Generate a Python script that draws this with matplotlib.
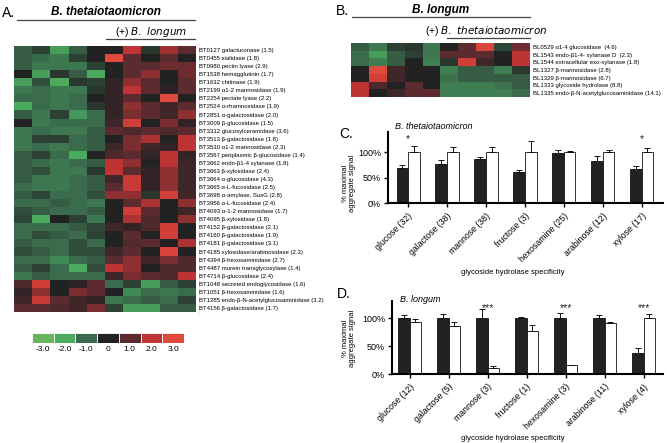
import numpy as np
import matplotlib
matplotlib.use("Agg")
import matplotlib.pyplot as plt
from matplotlib.colors import LinearSegmentedColormap, Normalize
from matplotlib.lines import Line2D

plt.rcParams['font.family'] = ['Liberation Sans', 'DejaVu Sans']

# ---- data: panel A heatmap (B. theta alone | + B. longum), 5 + 5 arrays
bt_genes = ["BT0127 galacturonase (1.5)", "BT0455 sialidase (1.8)", "BT0980 pectin lyase (2.9)",
            "BT1538 hemagglutinin (1.7)", "BT1632 chitinase (1.9)", "BT2199 α1-2 mannosidase (1.9)",
            "BT2254 pectate lyase (2.2)", "BT2524 α-rhamnosidase (1.9)", "BT2851 α-galactosidase (2.0)",
            "BT3009 β-glucosidase (1.5)", "BT3312 glucosylceramidase (3.6)", "BT3513 β-galactosidase (1.8)",
            "BT3530 α1-2 mannosidase (2.3)", "BT3567 periplasmic β-glucosidase (1.4)",
            "BT3662 endo-β1-4 xylanase (1.8)", "BT3663 β-xylosidase (2.4)", "BT3664 α-glucosidase (4.3)",
            "BT3665 α-L-fucosidase (2.5)", "BT3698 α-amylase, SusG (2.8)", "BT3956 α-L-fucosidase (2.4)",
            "BT4093 α-1-2 mannosidase (1.7)", "BT4095 β-xylosidase (1.8)", "BT4152 β-galactosidase (2.1)",
            "BT4160 β-galactosidase (1.9)", "BT4181 β-galactosidase (3.1)",
            "BT4185 xylosidase/arabinosidase (2.3)", "BT4394 β-hexosaminidase (2.7)",
            "BT4487 murein transglycosylase (1.4)", "BT4714 β-glucosidase (2.4)",
            "BT1048 secreted endoglycosidase (1.6)", "BT1051 β-hexosaminidase (1.6)",
            "BT1285 endo-β-N-acetylglucosaminidase (3.2)", "BT4156 β-galactosidase (1.7)"]
bt_alone = [[-0.8, -0.4, -1.8, -0.8, 0], [-0.8, -1.0, -1.2, -0.4, 0], [-0.8, -1.2, -1.2, -1.2, -0.4],
            [0, -1.8, -0.3, -0.8, -2.0], [-1.8, -0.6, -2.2, -0.3, -0.4], [-1.2, -1.0, -1.2, -1.2, -0.3],
            [-1.0, -1.0, -1.2, -1.0, 0], [-2.0, -1.0, -1.2, -1.0, -0.3], [-0.8, -1.2, -0.4, -1.7, -1.0],
            [0, -1.2, -1.0, -1.0, -1.0], [-1.2, -1.0, -1.2, -1.2, -0.8], [-1.2, -0.4, -0.4, -1.0, -0.8],
            [-1.2, -1.0, -1.2, -1.0, -0.8], [-0.8, -0.4, -1.0, -2.0, 0], [-0.8, -1.0, -1.2, -1.0, -0.8],
            [-0.8, -0.6, -1.2, -1.2, -0.3], [-0.8, -1.2, -1.2, -1.0, -0.8], [-1.0, -1.2, -1.2, -1.0, -0.8],
            [-0.8, -0.5, -1.0, -1.0, -0.6], [-1.0, -1.0, -0.8, -1.0, -1.2], [-0.6, -0.8, -1.0, -1.0, -0.8],
            [-0.5, -2.0, 0, -0.4, -1.2], [-1.0, -1.0, -1.0, -0.8, -0.5], [-1.0, -0.6, -0.8, -1.0, -0.4],
            [-0.8, -1.0, -1.0, -0.6, -1.0], [-0.6, -0.8, -1.0, -0.6, -0.6], [-1.0, -1.0, -1.5, -1.0, -0.8],
            [-0.8, -0.4, -1.0, -2.0, -0.6], [-1.2, -0.8, -1.0, -1.0, -1.0], [0.8, 2.5, 0, 0.2, 1],
            [0.3, 1.5, 0, 1.3, 1], [0.5, 2.3, 1, 0.5, 0.3], [1, 1, 0.8, 0.5, 1.3]]
bt_with_bl = [[0, 2, -0.3, 1.7, 1], [3, 1, 0, 1, 0], [0, 1, 1, 1.2, 1.2], [0, 1, 1.5, 0, 1.2],
              [0.3, 1.5, 1, 0, 1], [0.3, 2, 1, 0.2, 1], [0.3, 1, 0, 3, 0], [0.3, 1.5, 1, 0.5, 1],
              [0.3, 1.3, 1, 0.5, 1.5], [0.5, 2.5, 0, 1.3, 0.3], [1, 0.8, 1, 0.8, 1], [0, 1.3, 1.8, 0, 2],
              [0.5, 1.3, 0.5, 0.3, 2], [0.8, 1, 0.3, 2, 0.3], [2, 1.5, 0, 2, 0.5], [2, 1, 0.3, 1.5, 0.5],
              [0.5, 2.3, 0.3, 1.5, 0.5], [1, 2.3, 0.3, 1.5, 0.5], [1.5, 1.5, -0.3, 2.5, 0.5],
              [0, 1, 1.8, 0, 1.5], [0, 2.5, 1, 0, 0.5], [0, 1.8, 0.8, 0, 1.5], [0.5, 0.3, 0.8, 2.5, 0],
              [0, 1, 0, 2.5, 0], [0, 0.8, 1, 0, 1.8], [0.5, 1, 0, 2.8, 0], [1, 1.5, 0.5, 1.3, 0.8],
              [2, 1.5, 0, 0.8, 0.8], [0.5, 1.3, 1, 0.8, 2], [-1.0, -0.4, -1.8, -0.8, -0.4],
              [0, -1.5, -1.0, -1.2, -1.0], [-1.2, -1.0, -0.8, -1.0, -0.4], [-0.4, -1.8, -1.8, -0.8, -0.8]]

# ---- panel B heatmap (B. longum alone | + B. theta)
bl_genes = ["BL0529 α1-4 glucosidase  (4.6)", "BL1543 endo-β1-4- xylanase D  (2.3)",
            "BL1544 extracellular exo-xylanase (1.8)", "BL1327 β-mannosidase (2.8)",
            "BL1329 β-mannosidase (6.7)", "BL1333 glycoside hydrolase (8.8)",
            "BL1335 endo-β-N-acetylglucosaminidase (14.1)"]
bl_alone = [[-0.8, -1.2, -0.4, -0.3, -1.2], [-1.0, -1.8, -0.8, -0.4, -1.2], [-1.0, -1.3, -0.8, 0, -1.3],
            [0, 3, 0.5, 0, 0], [0, 2.5, 0.5, 0, 0], [2, 0.8, 0, 1, 0], [2, 0, 0.5, 1, 1]]
bl_with_bt = [[0, 1, 2.8, -0.5, 1.2], [1, 1, 1, 0, 2], [-0.3, 2.5, 0.5, 0, 2],
              [-1.3, -0.8, -0.8, -1.3, -0.3], [-1.1, -0.8, -0.8, -0.8, -0.8],
              [-1.3, -1.3, -1.3, -1.1, -0.8], [-1.3, -1.3, -1.3, -1.3, -1.0]]

legend_vals = [-3, -2, -1, 0, 1, 2, 3]
legend_labels = ["-3.0", "-2.0", "-1.0", "0", "1.0", "2.0", "3.0"]

# ---- panels C / D bar data (black = alone, white = co-colonized)
c_cats = ["glucose (32)", "galactose (38)", "mannose (38)", "fructose (3)",
          "hexosamine (25)", "arabinose (12)", "xylose (17)"]
c_black = [70, 77, 87, 62, 98, 82, 68]
c_black_err = [4, 7, 4, 3, 7, 10, 4]
c_white = [100, 100, 100, 100, 100, 100, 100]
c_white_err = [13, 10, 10, 23, 3, 5, 8]
c_stars = ["*", "", "", "", "", "", "*"]

d_cats = ["glucose (12)", "galactose (5)", "mannose (3)", "fructose (1)",
          "hexosamine (3)", "arabinose (11)", "xylose (4)"]
d_black = [100, 100, 100, 100, 100, 100, 38]
d_black_err = [5, 7, 16, 2, 10, 5, 9]
d_white = [94, 86, 10, 77, 16, 92, 100]
d_white_err = [4, 7, 4, 11, 1, 2, 7]
d_stars = ["", "", "***", "", "***", "", "***"]

W, H = 667, 443
fig = plt.figure(figsize=(W / 100, H / 100), dpi=100)


def px_axes(x0, y0, x1, y1, **kw):
    return fig.add_axes([x0 / W, 1 - y1 / H, (x1 - x0) / W, (y1 - y0) / H], **kw)


cmap = LinearSegmentedColormap.from_list("gr", [
    (0.0, "#66b55c"), (1 / 6, "#4aab5e"), (2 / 6, "#3b6b4d"), (0.5, "#222222"),
    (4 / 6, "#5b2b30"), (5 / 6, "#be3434"), (1.0, "#e04a3c")])
norm = Normalize(-3, 3)

# overlay for titles, rules, letters
ov = px_axes(0, 0, W, H)
ov.set_xlim(0, W)
ov.set_ylim(H, 0)
ov.axis("off")


def rule(x0, x1, y):
    ov.add_line(Line2D([x0, x1], [y, y], color="#444444", lw=0.9))


# panel A
ov.text(2, 13, "A.", fontsize=10, va="center")
ov.text(106, 12, "B. thetaiotaomicron", fontsize=8.5, fontweight="bold", style="italic",
        ha="center", va="center")
rule(17, 195, 20)
ov.text(151, 32, r"(+) $\it{B.\ longum}$", fontsize=7.5, ha="center", va="center")
rule(106, 195, 39)
ov.add_line(Line2D([198.5, 198.5], [44, 314], color="#bbbbbb", lw=0.5, ls=(0, (2, 2))))

axA = px_axes(14, 46, 196, 312)
matA = np.hstack([np.array(bt_alone), np.array(bt_with_bl)])
axA.imshow(matA, cmap=cmap, norm=norm, aspect="auto", interpolation="nearest")
axA.set_xticks([])
axA.set_yticks(range(len(bt_genes)))
axA.set_yticklabels(bt_genes, fontsize=4.3)
axA.yaxis.tick_right()
axA.tick_params(axis="y", length=0, pad=2.5)
for s in axA.spines.values():
    s.set_visible(False)

axL = px_axes(32, 333, 184, 343)
axL.bar(range(len(legend_vals)), [1] * len(legend_vals), width=1.0,
        color=[cmap(norm(v)) for v in legend_vals], edgecolor="white", linewidth=0.6)
axL.set_xlim(-0.5, len(legend_vals) - 0.5)
axL.set_ylim(0, 1)
axL.set_yticks([])
axL.set_xticks(range(len(legend_vals)))
axL.set_xticklabels(legend_labels, fontsize=6)
axL.tick_params(axis="x", length=0, pad=2)
for s in axL.spines.values():
    s.set_visible(False)

# panel B
ov.text(336, 11, "B.", fontsize=10, va="center")
ov.text(441, 10, "B. longum", fontsize=8.5, fontweight="bold", style="italic",
        ha="center", va="center")
rule(352, 530, 17)
ov.text(486, 31, r"(+) $\it{B.\ thetaiotaomicron}$", fontsize=7.5, ha="center", va="center")
rule(447, 530, 38)

axB = px_axes(351, 43, 530, 97)
matB = np.hstack([np.array(bl_alone), np.array(bl_with_bt)])
axB.imshow(matB, cmap=cmap, norm=norm, aspect="auto", interpolation="nearest")
axB.set_xticks([])
axB.set_yticks(range(len(bl_genes)))
axB.set_yticklabels(bl_genes, fontsize=4.3)
axB.yaxis.tick_right()
axB.tick_params(axis="y", length=0, pad=2)
for s in axB.spines.values():
    s.set_visible(False)


def bar_panel(ax, cats, blk, blk_err, wht, wht_err, stars, ytop, xlim):
    x = np.arange(len(cats))
    w = 0.3
    ax.bar(x - w / 2, blk, width=w, color="#222222", edgecolor="#111111", linewidth=0.6, zorder=2)
    ax.bar(x + w / 2, wht, width=w, color="white", edgecolor="#111111", linewidth=0.6, zorder=2)
    ax.errorbar(x - w / 2, blk, yerr=[np.zeros(len(x)), blk_err], fmt="none", ecolor="#111111",
                elinewidth=0.7, capsize=2, capthick=0.7, zorder=3)
    ax.errorbar(x + w / 2, wht, yerr=[np.zeros(len(x)), wht_err], fmt="none", ecolor="#111111",
                elinewidth=0.7, capsize=2, capthick=0.7, zorder=3)
    for i, s in enumerate(stars):
        if s:
            ax.text(x[i], ytop * 0.905, s, ha="center", va="center", fontsize=7.5, color="#222222")
    ax.set_xlim(*xlim)
    ax.set_ylim(0, ytop)
    ax.set_yticks([0, 50, 100])
    ax.set_yticklabels(["0%", "50%", "100%"], fontsize=6.5)
    ax.set_xticks(x)
    ax.set_xticklabels(cats, rotation=45, ha="right", rotation_mode="anchor", fontsize=6.3)
    ax.tick_params(axis="both", direction="out", length=3, width=1.0, pad=2)
    ax.tick_params(axis="x", pad=3)
    for side in ("top", "right"):
        ax.spines[side].set_visible(False)
    for side in ("left", "bottom"):
        ax.spines[side].set_linewidth(1.5)
    ax.patch.set_visible(False)


# panel C
ov.text(339, 134, "C.", fontsize=10, va="center")
axC = px_axes(388, 132, 663, 203)
bar_panel(axC, c_cats, c_black, c_black_err, c_white, c_white_err, c_stars, 140, (-0.52, 6.55))
ov.text(434, 126, "B. thetaiotaomicron", fontsize=6.5, style="italic", ha="center", va="center")
ov.text(349, 183, "% maximal\naggregate signal", fontsize=5.5, rotation=90,
        ha="center", va="center", linespacing=1.0)
ov.text(513, 273, "glycoside hydrolase specificity", fontsize=5.5, ha="center", va="center")

# panel D
ov.text(337, 294, "D.", fontsize=10, va="center")
axD = px_axes(392, 301, 663, 374)
bar_panel(axD, d_cats, d_black, d_black_err, d_white, d_white_err, d_stars, 131, (-0.45, 6.5))
ov.text(420, 299, "B. longum", fontsize=6.5, style="italic", ha="center", va="center")
ov.text(349, 338, "% maximal\naggregate signal", fontsize=5.5, rotation=90,
        ha="center", va="center", linespacing=1.0)
ov.text(513, 438, "glycoside hydrolase specificity", fontsize=5.5, ha="center", va="center")

fig.savefig("out.png", dpi=100)
